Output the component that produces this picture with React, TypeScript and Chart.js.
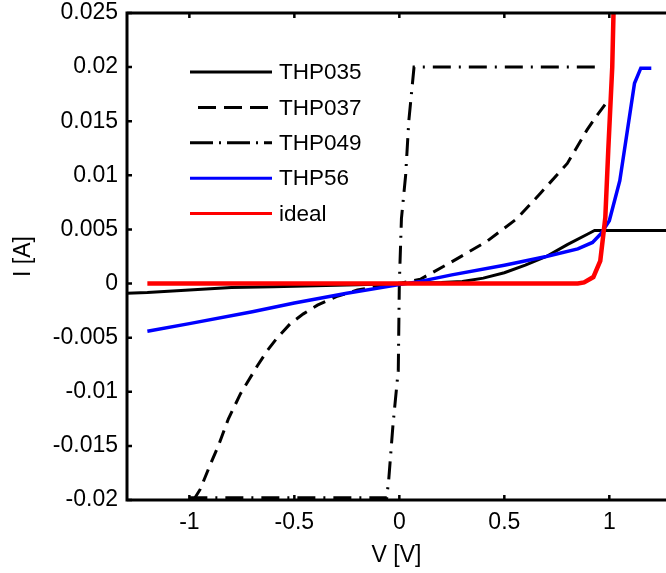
import React, { useEffect, useRef } from "react";
import { Chart, registerables } from "chart.js";

Chart.register(...registerables);

const xTickValues = [-1, -0.5, 0, 0.5, 1];
const xTickLabels = ["-1", "-0.5", "0", "0.5", "1"];
const yTickValues = [-0.02, -0.015, -0.01, -0.005, 0, 0.005, 0.01, 0.015, 0.02, 0.025];
const yTickLabels = ["-0.02", "-0.015", "-0.01", "-0.005", "0", "0.005", "0.01", "0.015", "0.02", "0.025"];

const seriesNames = ["THP035", "THP037", "THP049", "THP56", "ideal"];

const thp035V = [-1.3, -1.2, -1.0, -0.8, -0.6, -0.4, -0.2, 0, 0.2, 0.3, 0.4, 0.5, 0.6, 0.7, 0.8, 0.9, 0.93, 1.3];
const thp035I = [-0.0009, -0.00083, -0.0006, -0.00037, -0.0003, -0.0002, -0.0001, 0, 0.0001, 0.0002, 0.0005, 0.001, 0.0017, 0.0025, 0.0036, 0.0046, 0.0049, 0.0049];

const thp037V = [-0.98, -0.948, -0.9, -0.862, -0.814, -0.757, -0.676, -0.629, -0.581, -0.519, -0.457, -0.39, -0.3, -0.2, -0.1, 0, 0.1, 0.24, 0.417, 0.56, 0.67, 0.8, 0.894, 0.94, 0.99];
const thp037I = [-0.02, -0.019, -0.0167, -0.015, -0.0125, -0.0102, -0.0076, -0.0062, -0.005, -0.0037, -0.0028, -0.002, -0.0012, -0.0006, -0.00025, 0, 0.0004, 0.0019, 0.0039, 0.006, 0.0083, 0.0111, 0.0142, 0.0155, 0.0168];

const thp049V = [-1.0, -0.06, -0.05, -0.03, -0.005, 0, 0.01, 0.03, 0.045, 0.06, 0.07, 0.965];
const thp049I = [-0.0198, -0.0198, -0.018, -0.013, -0.008, 0, 0.006, 0.01, 0.015, 0.018, 0.02, 0.02];

const thp56V = [-1.2, -1.0, -0.7, -0.5, -0.25, 0, 0.1, 0.25, 0.5, 0.7, 0.85, 0.92, 0.96, 1.0, 1.05, 1.085, 1.12, 1.15, 1.2];
const thp56I = [-0.0044, -0.0037, -0.0026, -0.0018, -0.0009, -0.0001, 0.0002, 0.0008, 0.0017, 0.0025, 0.0032, 0.0038, 0.0046, 0.0058, 0.0095, 0.014, 0.0185, 0.0199, 0.0199];

const idealV = [-1.2, 0.85, 0.88, 0.924, 0.957, 0.981, 0.995, 1.014, 1.02, 1.03];
const idealI = [0, 0, 0.0001, 0.0006, 0.0021, 0.0061, 0.0123, 0.02, 0.025, 0.032];

const FONT = "'Liberation Sans', Arial, Helvetica, sans-serif";

const zip = (xs: number[], ys: number[]) => xs.map((x, i) => ({ x, y: ys[i] }));

const legendDashes: number[][] = [[], [18, 8], [23, 6, 2, 6], [], []];
const legendDashOffsets = [0, 18, 0, 0, 0];

const framePlugin = {
  id: "frameAndLegend",
  afterDatasetsDraw(chart: any) {
    const { ctx, chartArea: a, scales } = chart;
    const xs = scales.x;
    const ys = scales.y;
    ctx.save();
    ctx.strokeStyle = "#000";
    ctx.lineWidth = 3;
    ctx.lineCap = "butt";
    ctx.setLineDash([]);
    ctx.beginPath();
    ctx.moveTo(a.left - 1.5, a.top);
    ctx.lineTo(a.right + 2, a.top);
    ctx.moveTo(a.left, a.top - 1.5);
    ctx.lineTo(a.left, a.bottom + 1.5);
    ctx.moveTo(a.left - 1.5, a.bottom);
    ctx.lineTo(a.right + 2, a.bottom);
    ctx.stroke();

    ctx.lineWidth = 2.5;
    ctx.beginPath();
    xTickValues.forEach((v) => {
      const px = xs.getPixelForValue(v);
      ctx.moveTo(px, a.bottom);
      ctx.lineTo(px, a.bottom - 5);
      ctx.moveTo(px, a.top);
      ctx.lineTo(px, a.top + 5);
    });
    yTickValues.forEach((v) => {
      const py = ys.getPixelForValue(v);
      ctx.moveTo(a.left, py);
      ctx.lineTo(a.left + 5, py);
    });
    ctx.stroke();

    // legend
    const lx0 = 190;
    const lx1 = 272;
    const ly0 = 72;
    const lstep = 35.4;
    chart.data.datasets.forEach((ds: any, i: number) => {
      const y = ly0 + i * lstep;
      ctx.strokeStyle = ds.borderColor;
      ctx.lineWidth = 3;
      ctx.setLineDash(legendDashes[i]);
      ctx.lineDashOffset = legendDashOffsets[i];
      ctx.beginPath();
      ctx.moveTo(lx0, y);
      ctx.lineTo(lx1, y);
      ctx.stroke();
      ctx.setLineDash([]);
      ctx.lineDashOffset = 0;
      ctx.fillStyle = "#000";
      ctx.font = `22.5px ${FONT}`;
      ctx.textBaseline = "middle";
      ctx.textAlign = "left";
      ctx.fillText(ds.label, 279, y + 1);
    });
    ctx.restore();
  },
};

export default function App() {
  const ref = useRef<HTMLCanvasElement | null>(null);
  useEffect(() => {
    document.body.style.margin = "0";
    const canvas = ref.current;
    if (!canvas) return;
    const tickFont = { family: FONT, size: 23, lineHeight: 1 };
    const chart = new Chart(canvas, {
      type: "line",
      data: {
        datasets: [
          { label: seriesNames[0], data: zip(thp035V, thp035I), borderColor: "#000000", borderWidth: 3, order: 5 },
          { label: seriesNames[1], data: zip(thp037V, thp037I), borderColor: "#000000", borderWidth: 3, borderDash: [13, 8], order: 4 },
          { label: seriesNames[2], data: zip(thp049V, thp049I), borderColor: "#000000", borderWidth: 3, borderDash: [18, 8, 2, 8], order: 3 },
          { label: seriesNames[3], data: zip(thp56V, thp56I), borderColor: "#0000ff", borderWidth: 3.5, order: 2 },
          { label: seriesNames[4], data: zip(idealV, idealI), borderColor: "#ff0000", borderWidth: 4.5, order: 1 },
        ] as any,
      },
      options: {
        animation: false,
        responsive: false,
        devicePixelRatio: 1,
        parsing: false as any,
        elements: { point: { radius: 0 }, line: { tension: 0, fill: false } },
        layout: { padding: { top: 13, right: 0, bottom: 0, left: 0 } },
        plugins: { legend: { display: false }, tooltip: { enabled: false } },
        scales: {
          x: {
            type: "linear",
            min: -1.297,
            max: 1.27,
            afterBuildTicks: (s: any) => {
              s.ticks = xTickValues.map((v) => ({ value: v }));
            },
            afterFit: (s: any) => {
              s.height = 73;
              s.paddingLeft = 0;
              s.paddingRight = 0;
            },
            ticks: {
              autoSkip: false,
              maxRotation: 0,
              padding: 11,
              color: "#000",
              font: tickFont,
              callback: (v: any) => xTickLabels[xTickValues.indexOf(Number(v))],
            },
            grid: { display: false, drawTicks: false },
            border: { display: false },
            title: {
              display: true,
              text: "V [V]",
              color: "#000",
              font: { family: FONT, size: 23, lineHeight: 1.2 },
              padding: { top: 0, bottom: 4 },
            },
          },
          y: {
            type: "linear",
            min: -0.02,
            max: 0.025,
            afterBuildTicks: (s: any) => {
              s.ticks = yTickValues.map((v) => ({ value: v }));
            },
            afterFit: (s: any) => {
              s.width = 127;
              s.paddingTop = 0;
              s.paddingBottom = 0;
            },
            ticks: {
              autoSkip: false,
              padding: 9,
              color: "#000",
              font: tickFont,
              callback: (v: any) => {
                const idx = yTickValues.findIndex((t) => Math.abs(t - Number(v)) < 1e-9);
                return yTickLabels[idx];
              },
            },
            grid: { display: false, drawTicks: false },
            border: { display: false },
            title: {
              display: true,
              text: "I [A]",
              color: "#000",
              font: { family: FONT, size: 23, lineHeight: 1.2 },
              padding: { top: 10, bottom: 0 },
            },
          },
        },
      } as any,
      plugins: [framePlugin],
    });
    return () => chart.destroy();
  }, []);
  return (
    <div style={{ position: "absolute", left: 0, top: 0, width: 666, height: 573, background: "#fff" }}>
      <canvas ref={ref} width={666} height={573} style={{ display: "block", width: 666, height: 573 }} />
    </div>
  );
}
